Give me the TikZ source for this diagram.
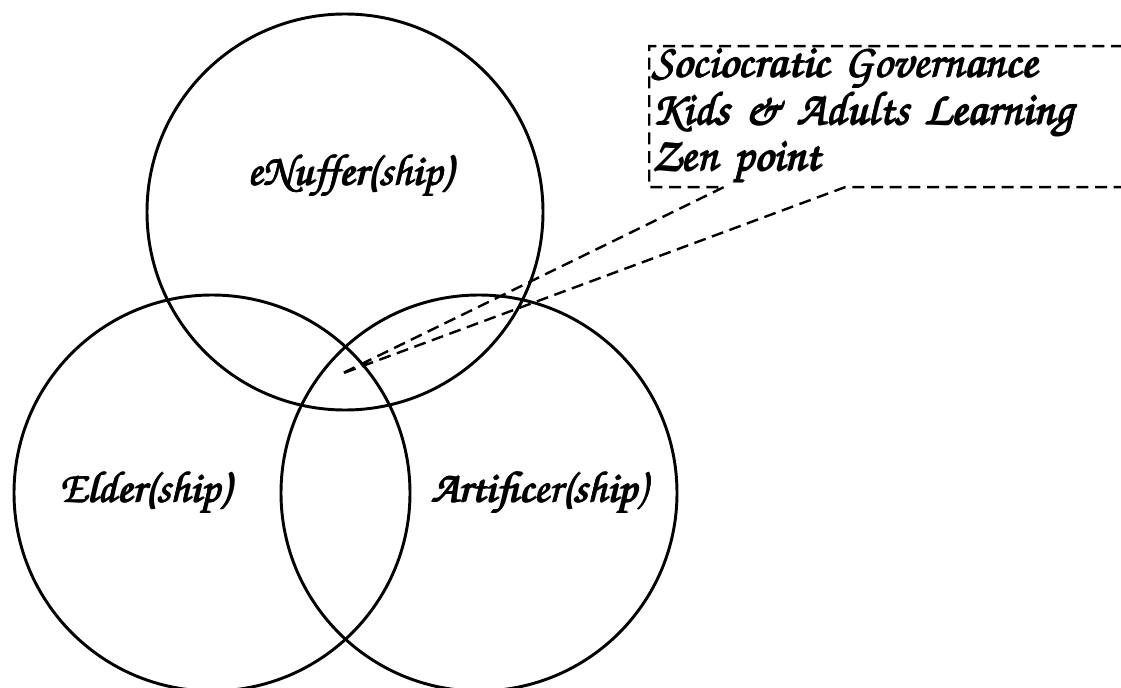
\documentclass[tikz,border=0pt]{standalone}
\usepackage[T1]{fontenc}
\usetikzlibrary{shapes.callouts}

\newcommand{\brush}{\fontencoding{T1}\fontfamily{pzc}\fontseries{mb}\fontshape{it}\selectfont}
% poor man's bold: the text set several times, a little apart
\newcommand{\heavy}[1]{\leavevmode\rlap{#1}\rlap{\kern1.2pt#1}\rlap{\kern0.6pt\raisebox{0.8pt}{#1}}\rlap{\kern0.6pt\raisebox{-0.4pt}{#1}}\hphantom{#1}\kern1.2pt}

\begin{document}
\begin{tikzpicture}
[x=0.75pt,y=-0.75pt,%
  venn/.style={shape=circle,draw,line width=2.2pt,inner sep=0pt,minimum size=297pt},%
  ring label/.style={font=\brush\fontsize{33}{36}\selectfont},%
  note/.style={rectangle callout,draw,dashed,dash pattern=on 9pt off 5pt,
    line width=1.8pt,inner xsep=1.5pt,inner ysep=0pt,align=left,text width=450pt,
    minimum height=105.75pt,font=\brush\fontsize{35}{31}\selectfont}]
\useasboundingbox (0,0) rectangle (1121,688);
% the three rings
\node[venn] (enuffer) at (345,212) {};
\node[venn] (elder) at (212,493) {};
\node[venn] (artificer) at (479,493) {};
\node[ring label] (enufferlbl) at (350,176) {\heavy{eNuffer(ship)}};
\node[ring label] (elderlbl) at (145,493) {\heavy{Elder(ship)}};
\node[ring label] (artificerlbl) at (539,493) {\heavy{Artificer(ship)}};
% callout pointing at the middle
\coordinate (zen) at (341,374);
\node[note,anchor=north west,callout absolute pointer={(zen)},
  callout pointer width=91pt] (govern) at (648,45)
  {\heavy{Sociocratic Governance}\\\heavy{Kids \& Adults Learning}\\\heavy{Zen point}};
\end{tikzpicture}
\end{document}
